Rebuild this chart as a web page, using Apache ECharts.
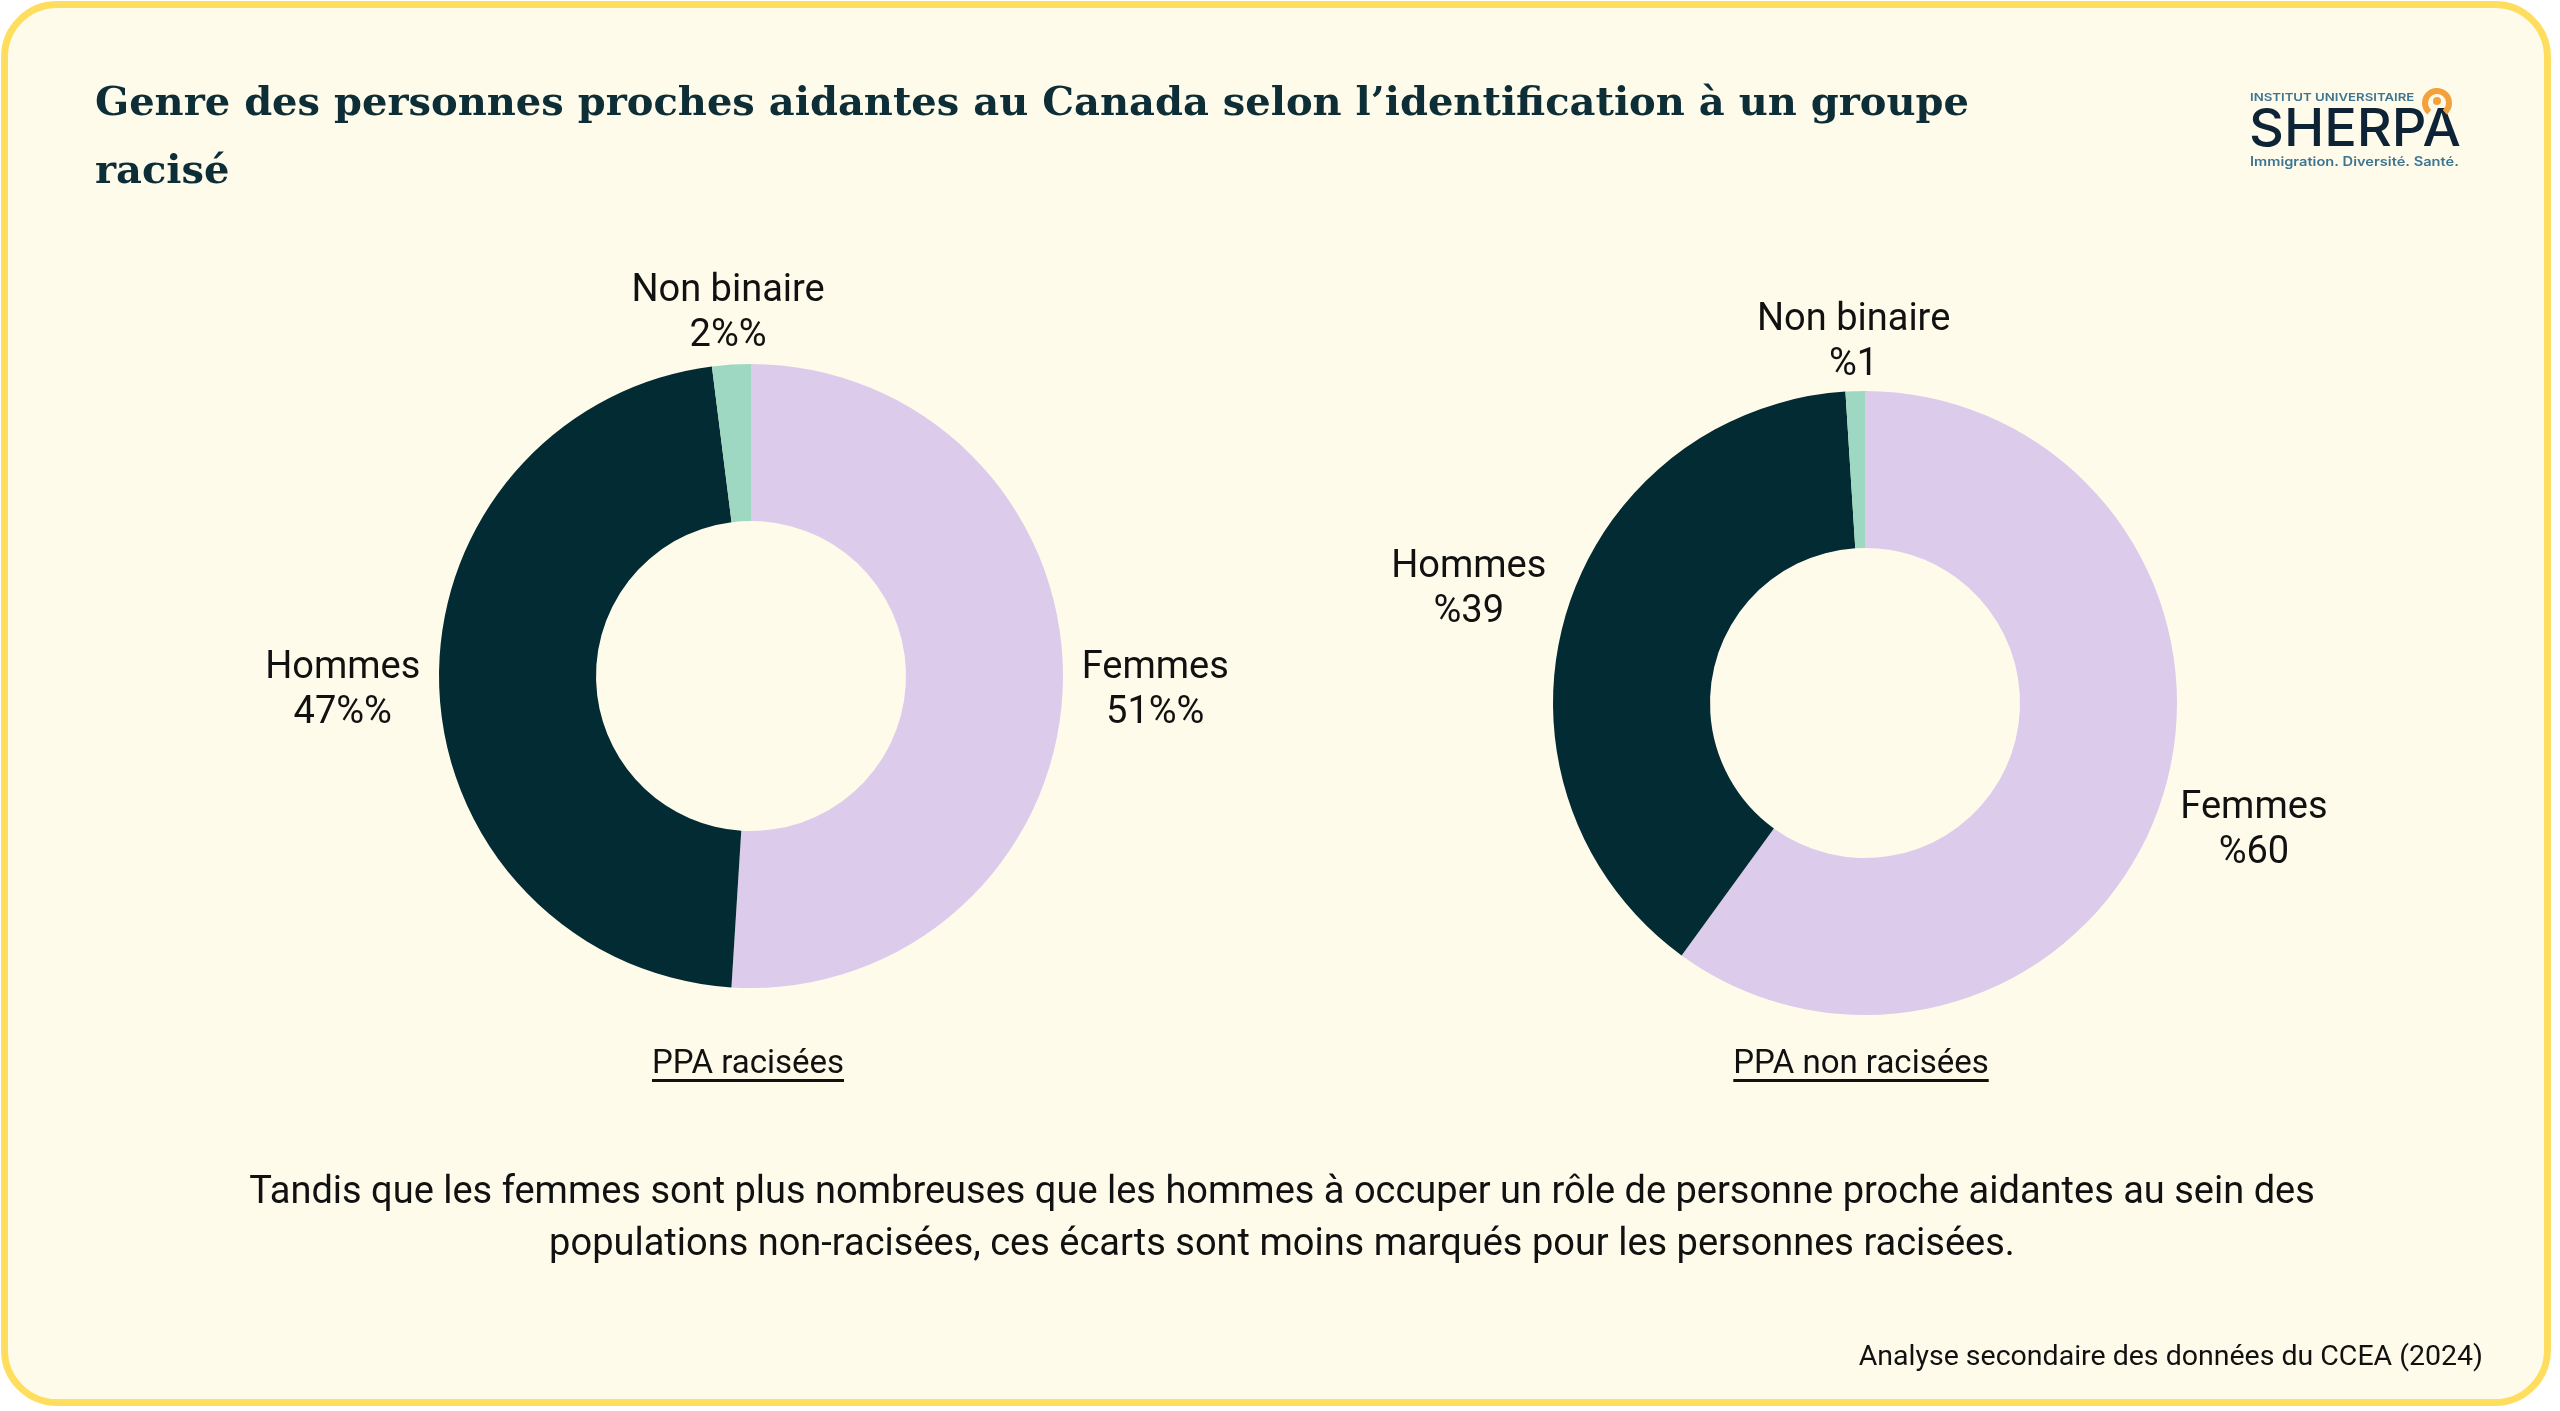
<!DOCTYPE html>
<html>
<head>
<meta charset="utf-8">
<script src="https://cdn.jsdelivr.net/npm/echarts@6/dist/echarts.min.js"></script>
<style>
  html, body { margin: 0; padding: 0; background: #ffffff; }
  #frame {
    position: absolute; left: 1px; top: 1px; width: 2536px; height: 1391px;
    border: 7px solid #ffdd5e; border-radius: 56px; background: #fefbeb; overflow: hidden;
  }
  #chart { position: absolute; left: -8px; top: -8px; width: 2560px; height: 1411px; }
</style>
</head>
<body>
<div id="frame"><div id="chart"></div></div>
<script>
// données (CCEA 2024)
var categories = ["Femmes", "Hommes", "Non binaire"];
var racisees = [51, 47, 2];
var nonRacisees = [60, 39, 1];
var chartTitles = ["PPA racisées", "PPA non racisées"];
var palette = ["#dccbeb", "#022b33", "#9ed8c3"];

var chart = echarts.init(document.getElementById("chart"));

function toData(vals) {
    return vals.map(function (v, i) { return { name: categories[i], value: v }; });
}

// place l'étiquette sur la bissectrice de la part, juste hors de l'anneau
function labelAt(vals, cx, cy, r) {
    var total = vals.reduce(function (a, b) { return a + b; }, 0);
    return function (params) {
        var i = params.dataIndex, before = 0;
        for (var k = 0; k < i; k++) before += vals[k];
        var a = (before + vals[i] / 2) / total * Math.PI * 2;
        var dx = Math.sin(a), dy = -Math.cos(a);
        var w = params.labelRect.width, h = params.labelRect.height;
        var d = r + 18 + Math.abs(dx) * w / 2 + Math.abs(dy) * (h / 2 - 16);
        return { x: cx + dx * d, y: cy + dy * d + 2, align: "center", verticalAlign: "middle" };
    };
}

function measure(text, font) {
    var ctx = document.createElement("canvas").getContext("2d");
    ctx.font = font;
    return ctx.measureText(text).width;
}

var labelStyle = { fontFamily: "Roboto", fontSize: 38, lineHeight: 45, color: "#111111" };

function donut(vals, cx, cy, fmt) {
    return {
        type: "pie",
        center: [cx, cy],
        radius: [155, 312],
        startAngle: 90,
        clockwise: true,
        silent: true,
        data: toData(vals),
        itemStyle: { borderWidth: 0 },
        label: Object.assign({ show: true, position: "outside", formatter: fmt }, labelStyle),
        labelLine: { show: false },
        labelLayout: labelAt(vals, cx, cy, 312)
    };
}

var subFont = "33px Roboto";
function underlined(text, cx, y) {
    var w = measure(text, subFont);
    return [{
        type: "text", x: cx, y: y,
        style: { text: text, font: subFont, fill: "#111111", align: "center", verticalAlign: "top" }
    }, {
        type: "rect", shape: { x: cx - w / 2, y: y + 31, width: w, height: 3 },
        style: { fill: "#111111" }
    }];
}

var option = {
    backgroundColor: "transparent",
    color: palette,
    animation: false,
    title: {
        text: "Genre des personnes proches aidantes au Canada selon l’identification à un groupe\nracisé",
        left: 90, top: 66,
        textStyle: { fontFamily: "DejaVu Serif", fontWeight: "bold", fontSize: 40, lineHeight: 68, color: "#0d2e36" }
    },
    series: [
        donut(racisees, 751, 676, "{b}\n{c}%%"),
        donut(nonRacisees, 1865, 703, "{b}\n%{c}")
    ],
    graphic: [].concat(
        underlined(chartTitles[0], 748, 1048),
        underlined(chartTitles[1], 1861, 1048),
        [{
            type: "text", x: 1282, y: 1167,
            style: {
                text: "Tandis que les femmes sont plus nombreuses que les hommes à occuper un rôle de personne proche aidantes au sein des\npopulations non-racisées, ces écarts sont moins marqués pour les personnes racisées.",
                font: "38px Roboto", lineHeight: 52, fill: "#111111", align: "center", verticalAlign: "top"
            }
        }, {
            type: "text", x: 2483, y: 1343,
            style: { text: "Analyse secondaire des données du CCEA (2024)", font: "28.5px Roboto", fill: "#111111", align: "right", verticalAlign: "top" }
        },
        // logo SHERPA
        { type: "text", x: 2250, y: 92, scaleX: 1.2, style: { text: "INSTITUT UNIVERSITAIRE", font: "600 11px Inter", fill: "#3d7590" } },
        { type: "text", x: 2249, y: 104, scaleX: 1.04, style: { text: "SHERPA", font: "500 52px Inter", fill: "#0e2335" } },
        { type: "text", x: 2250, y: 156, scaleX: 1.17, style: { text: "Immigration. Diversité. Santé.", font: "600 12.5px Inter", fill: "#3d7590" } },
        { type: "arc", shape: { cx: 2437, cy: 103, r: 12, startAngle: Math.PI / 2 + 0.7, endAngle: Math.PI * 2.5 - 0.7 },
          style: { stroke: "#f3a23b", lineWidth: 6, fill: null } },
        { type: "circle", shape: { cx: 2437, cy: 101, r: 4 }, style: { fill: "#f3a23b" } }]
    )
};
chart.setOption(option);
</script>
</body>
</html>
